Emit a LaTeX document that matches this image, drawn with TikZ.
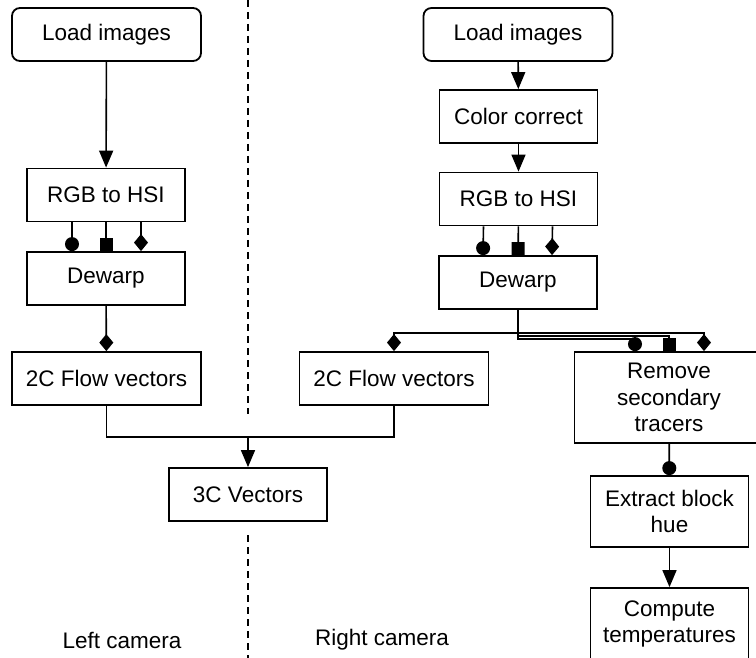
\documentclass[tikz,border=0pt]{standalone}
\usepackage{fontspec}
\setmainfont{Liberation Sans}
\usetikzlibrary{arrows.meta}
\tikzset{
	box/.style={draw, line width=1.8pt, minimum width=158pt, minimum height=53pt, align=center, inner sep=2pt},
	widebox/.style={box, minimum width=189pt},
	startbox/.style={widebox, rounded corners=8pt},
	link/.style={line width=1.6pt},
	arrow/.style={link, -{Triangle[length=17pt, width=14pt]}},
	dotend/.style={link, -{Circle[length=14pt]}},
	squareend/.style={link, -{Square[length=13pt, width=13pt]}},
	diamondend/.style={link, -{Turned Square[length=17pt, width=14pt]}},
	divider/.style={line width=1.6pt, dash pattern=on 7pt off 5pt},
}

\begin{document}
\begin{tikzpicture}[x=1pt, y=-1pt, font=\fontsize{22.5}{26.5}\selectfont]
	\clip (0,0) rectangle (756,658);

	% Left camera
	\node[startbox] (l1) at (106.5,34.5) {Load images};
	\node[box] (l2) at (106,195) {RGB to HSI};
	\node[box] (l3) at (106,278.5) {Dewarp};
	\node[widebox] (l4) at (106.5,378.5) {2C Flow vectors};

	\draw[arrow] (l1) -- (l2);
	\draw[dotend] ([xshift=-34pt]l2.south) -- ([xshift=-34pt]l3.north);
	\draw[squareend] (l2) -- (l3);
	\draw[diamondend] ([xshift=35pt]l2.south) -- ([xshift=35pt]l3.north);
	\draw[diamondend] (l3) -- (l4);

	% Right camera
	\node[startbox] (r1) at (518,34.5) {Load images};
	\node[box] (r2) at (518.5,116.5) {Color correct};
	\node[box] (r3) at (518.5,199) {RGB to HSI};
	\node[box] (r4) at (518,282.5) {Dewarp};
	\node[widebox] (m) at (394,378.5) {2C Flow vectors};
	\node[widebox, minimum height=91pt] (t) at (669,397.5) {Remove\\secondary\\tracers};
	\node[box, minimum height=71pt] (e) at (669.5,511.5) {Extract block\\hue};
	\node[box, minimum height=72pt] (p) at (669.5,624) {Compute\\temperatures};

	\draw[arrow] (r1) -- (r2);
	\draw[arrow] (r2) -- (r3);
	\draw[dotend] ([xshift=-35pt]r3.south) -- ([xshift=-35pt]r4.north);
	\draw[squareend] (r3) -- (r4);
	\draw[diamondend] ([xshift=34pt]r3.south) -- ([xshift=34pt]r4.north);

	\draw[diamondend] (r4.south) -- ++(0,23) -| (m.north);
	\draw[diamondend] (r4.south) -- ++(0,23) -| ([xshift=35pt]t.north);
	\draw[squareend] (r4.south) -- ++(0,26) -| (t.north);
	\draw[dotend] (r4.south) -- ++(0,29) -| ([xshift=-34pt]t.north);

	\draw[dotend] (t) -- (e);
	\draw[arrow] (e) -- (p);

	% Both flow fields join here
	\node[box] (c) at (248,494.5) {3C Vectors};
	\coordinate (join) at (248,437);
	\draw[link] (l4.south) |- (join) -| (m.south);
	\draw[arrow] (join) -- (c);

	% Camera divider
	\draw[divider] (248,0) -- (248,414);
	\draw[divider] (248,535) -- (248,658);
	\node (leftlabel) at (122,640) {Left camera};
	\node (rightlabel) at (382,640) {Right camera};
\end{tikzpicture}
\end{document}
